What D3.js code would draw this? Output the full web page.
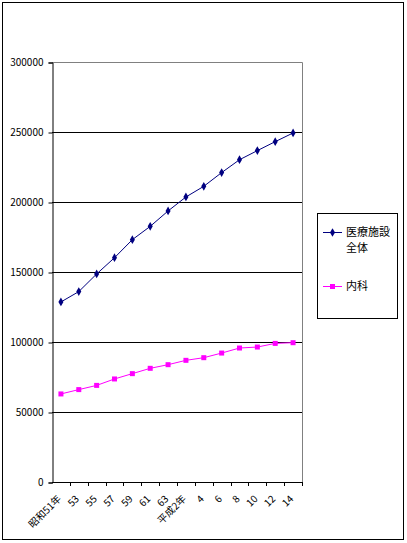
<!DOCTYPE html>
<html><head><meta charset="utf-8">
<script src="https://cdn.jsdelivr.net/npm/d3@7"></script>
<style>
body{margin:0;background:#fff;}
text{font-family:"Noto Sans CJK JP","Noto Sans",sans-serif;}
</style></head>
<body>
<svg id="chart" width="407" height="543"></svg>
<script>
const categories = ["昭和51年","53","55","57","59","61","63","平成2年","4","6","8","10","12","14"];
const totalValues = [128600,136000,148600,160200,173100,182600,193600,203600,211200,221000,230200,236700,243100,249300];
const internalValues = [62900,66000,69000,73600,77400,81200,83800,86900,88800,92100,95700,96400,99000,99500];
const seriesNames = ["医療施設\n全体","内科"];
const yTicks = [0,50000,100000,150000,200000,250000,300000];

(function(){
const svg = d3.select("#chart");
const pL=52, pR=302, pT=62, pB=482;

svg.append("rect").attr("x",2.5).attr("y",2.5).attr("width",401).attr("height",537)
  .attr("fill","#fff").attr("stroke","#000").attr("stroke-width",1);

const x = d3.scaleBand().domain(categories).range([pL,pR]).padding(0);
const y = d3.scaleLinear().domain([0,300000]).range([pB,pT]);

svg.append("path").attr("d",`M${pL},${pT+0.5}H${pR+0.5}V${pB}`)
  .attr("fill","none").attr("stroke","#808080");

svg.append("g").selectAll("line").data(yTicks.filter(d=>d>0 && d<300000)).join("line")
  .attr("x1",pL).attr("x2",pR).attr("y1",d=>Math.round(y(d))+0.5).attr("y2",d=>Math.round(y(d))+0.5)
  .attr("stroke","#000");

const yAxis = d3.axisLeft(y).tickValues(yTicks).tickSize(4).tickFormat(d3.format("d"));
const gy = svg.append("g").attr("transform",`translate(${pL+0.5},0.5)`).call(yAxis);
gy.select(".domain").attr("stroke","#000");
gy.selectAll("text").attr("font-size","10px").attr("fill","#000").attr("x",-9);

const xAxis = d3.axisBottom(x).tickSize(0).tickFormat(d=>d);
const gx = svg.append("g").attr("transform",`translate(0,${pB+0.5})`).call(xAxis);
gx.select(".domain").attr("d",`M${pL},0H${pR+0.5}`).attr("stroke","#000");
gx.selectAll(".tick text")
  .attr("font-size","10px").attr("fill","#000")
  .attr("text-anchor","end")
  .attr("dy",0).attr("y",0)
  .attr("transform","translate(1,17) rotate(-45)");
svg.append("g").selectAll("line").data(categories).join("line")
  .attr("x1",(d,i)=>Math.round(pL + x.step()*(i+1))+0.5)
  .attr("x2",(d,i)=>Math.round(pL + x.step()*(i+1))+0.5)
  .attr("y1",pB).attr("y2",pB+4).attr("stroke","#000");

const cx = d=>x(d)+x.bandwidth()/2;
const line = d3.line().x((d,i)=>cx(categories[i])).y(d=>y(d));

svg.append("path").datum(totalValues).attr("d",line).attr("fill","none").attr("stroke","#000080").attr("stroke-width",1);
svg.append("path").datum(internalValues).attr("d",line).attr("fill","none").attr("stroke","#FF00FF").attr("stroke-width",1);

const diamond = d3.symbol().type(d3.symbolDiamond).size(22);
svg.append("g").selectAll("path").data(totalValues).join("path")
  .attr("d",diamond).attr("transform",(d,i)=>`translate(${cx(categories[i])},${y(d)})`).attr("fill","#000080");
svg.append("g").selectAll("rect").data(internalValues).join("rect")
  .attr("x",(d,i)=>cx(categories[i])-2.5).attr("y",d=>y(d)-2.5).attr("width",5).attr("height",5).attr("fill","#FF00FF");

const lg = svg.append("g");
lg.append("rect").attr("x",317.5).attr("y",213.5).attr("width",80).attr("height",105).attr("fill","#fff").attr("stroke","#000");
const legendItems = [{name:seriesNames[0],color:"#000080",type:"diamond",y:232},{name:seriesNames[1],color:"#FF00FF",type:"square",y:286}];
legendItems.forEach(it=>{
  lg.append("line").attr("x1",323).attr("x2",342).attr("y1",it.y+0.5).attr("y2",it.y+0.5).attr("stroke",it.color);
  if(it.type==="diamond") lg.append("path").attr("d",diamond).attr("transform",`translate(332.5,${it.y+0.5})`).attr("fill",it.color);
  else lg.append("rect").attr("x",330).attr("y",it.y-2).attr("width",5).attr("height",5).attr("fill",it.color);
  it.name.split("\n").forEach((s,k)=>lg.append("text").attr("x",346).attr("y",it.y+4+k*16)
    .attr("font-size","11px").attr("fill","#000").text(s));
});
})();
</script>
</body></html>
